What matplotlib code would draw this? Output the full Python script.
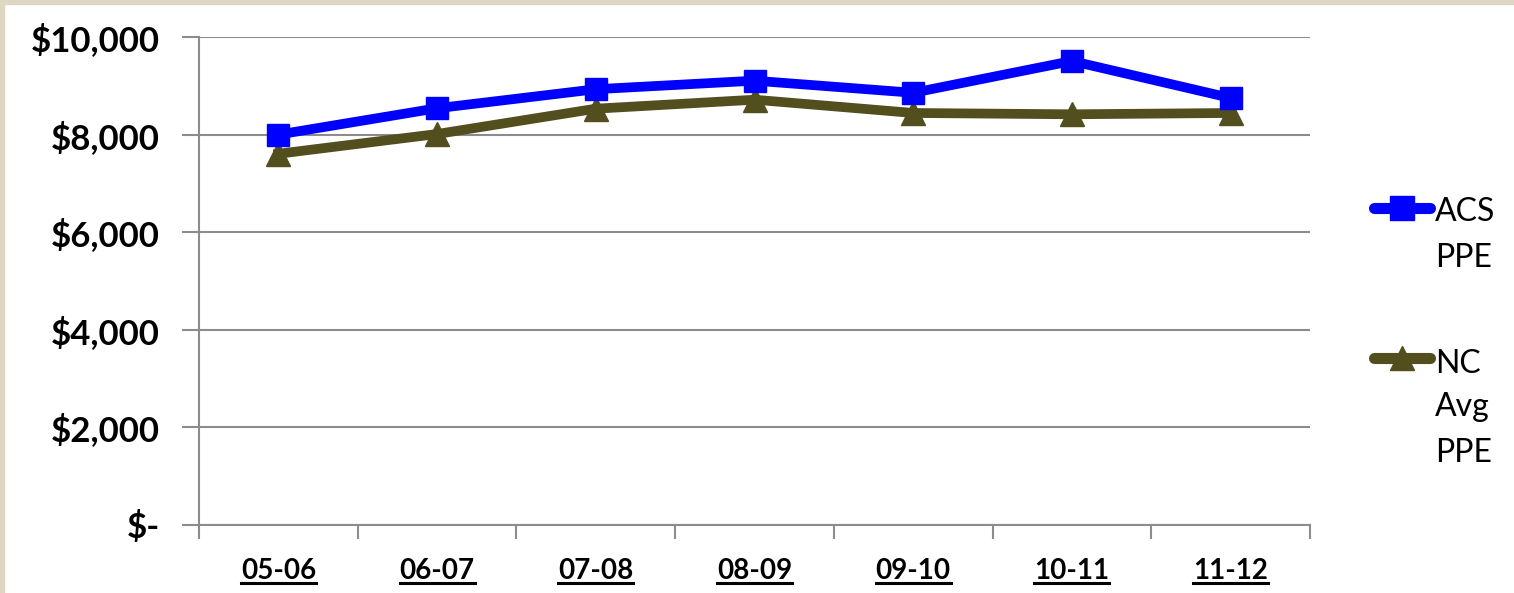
import numpy as np
import matplotlib
matplotlib.use('Agg')
import matplotlib.pyplot as plt
from matplotlib.lines import Line2D
from matplotlib.patches import Rectangle
from matplotlib.ticker import FixedLocator, FuncFormatter

years = ['05-06', '06-07', '07-08', '08-09', '09-10', '10-11', '11-12']
acs_ppe = [8000, 8540, 8930, 9105, 8857, 9508, 8750]
nc_avg_ppe = [7607, 8012, 8531, 8715, 8443, 8416, 8443]

series_names = [['ACS', 'PPE'], ['NC', 'Avg', 'PPE']]
series_colors = ['#0000FF', '#524E1E']
series_markers = ['s', '^']

plt.rcParams['font.family'] = ['Lato', 'DejaVu Sans']

W, H = 1514, 593
fig = plt.figure(figsize=(W / 100, H / 100), dpi=100)
fig.patch.set_facecolor('white')
# beige frame on left and top
fig.patches.append(Rectangle((0, 0), 4 / W, 1, transform=fig.transFigure,
                             color='#DDD8C3', zorder=0))
fig.patches.append(Rectangle((0, 1 - 4 / H), 1, 4 / H, transform=fig.transFigure,
                             color='#DDD8C3', zorder=0))

ax = fig.add_axes([199 / W, 1 - 525 / H, (1310 - 199) / W, (525 - 37) / H])

x = np.arange(len(years))
ax.plot(x, acs_ppe, color=series_colors[0], marker=series_markers[0], lw=7,
        markersize=16, zorder=3, solid_joinstyle='miter')
ax.plot(x, nc_avg_ppe, color=series_colors[1], marker=series_markers[1], lw=7,
        markersize=17, zorder=2, solid_joinstyle='miter')

ax.set_xlim(-0.5, len(years) - 0.5)
ax.set_ylim(0, 10000)
ax.set_yticks(np.arange(0, 10001, 2000))
ax.yaxis.set_major_formatter(FuncFormatter(lambda v, p: '$-' if v == 0 else '${:,.0f}'.format(v)))
ax.grid(axis='y', color='#8C8C8C', lw=1.5)
ax.set_axisbelow(True)

# category labels at centres, tick marks at boundaries
ax.set_xticks(x)
ax.set_xticklabels(years)
ax.xaxis.set_minor_locator(FixedLocator(np.arange(-0.5, len(years), 1.0)))
ax.tick_params(axis='x', which='major', length=0, pad=24, labelsize=20)
ax.tick_params(axis='x', which='minor', length=10, width=1.5, color='#8C8C8C')
ax.tick_params(axis='y', length=12, width=1.5, color='#8C8C8C', labelsize=25, pad=16)
for lab in ax.get_xticklabels() + ax.get_yticklabels():
    lab.set_fontweight('bold')

for side in ['top', 'right']:
    ax.spines[side].set_visible(False)
for side in ['left', 'bottom']:
    ax.spines[side].set_color('#8C8C8C')
    ax.spines[side].set_linewidth(1.5)

# legend drawn by hand so the handle sits on the first text line
handle_y = [208, 358]
text_y = [[209, 255], [361, 404, 450]]
for names, col, mk, hy, tys in zip(series_names, series_colors, series_markers,
                                   handle_y, text_y):
    ly = 1 - hy / H
    fig.add_artist(Line2D([1374 / W, 1430 / W], [ly, ly], color=col, lw=8,
                          solid_capstyle='round', transform=fig.transFigure))
    fig.add_artist(Line2D([1402 / W], [ly], color=col, marker=mk, markersize=17,
                          transform=fig.transFigure))
    for name, ty in zip(names, tys):
        fig.text(1435 / W, 1 - ty / H, name, fontsize=23, va='center_baseline',
                 ha='left')

# underline x labels
fig.canvas.draw()
r = fig.canvas.get_renderer()
for lab in ax.get_xticklabels():
    bb = lab.get_window_extent(r)
    yy = (bb.y0 + 1) / fig.bbox.height
    fig.add_artist(Line2D([bb.x0 / fig.bbox.width, bb.x1 / fig.bbox.width], [yy, yy],
                          color='black', lw=2.2, transform=fig.transFigure))

fig.savefig('out.png', dpi=100)
